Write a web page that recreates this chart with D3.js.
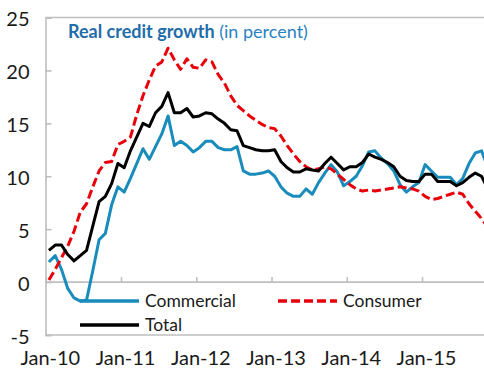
<!DOCTYPE html>
<html>
<head>
<meta charset="utf-8">
<script src="https://cdn.jsdelivr.net/npm/d3@7"></script>
<style>
  html, body { margin: 0; padding: 0; background: #fff; }
  svg { display: block; font-family: Lato, "Open Sans", sans-serif; }
</style>
</head>
<body>
<svg id="chart" width="484" height="375"></svg>
<script>
// Monthly real credit growth, percent, Jan-2010 onwards
const commercial = [
  1.9, 2.5, 1.2, -0.6, -1.5, -1.8, -1.7, 1.1, 4.0, 4.6, 7.3, 9.0,
  8.5, 9.8, 11.2, 12.6, 11.6, 12.8, 14.0, 15.7, 12.9, 13.3, 12.9, 12.3,
  12.7, 13.3, 13.3, 12.7, 12.5, 12.5, 12.8, 10.5, 10.2, 10.2, 10.3, 10.5,
  10.0, 9.0, 8.4, 8.1, 8.1, 8.8, 8.3, 9.4, 10.3, 11.1, 10.4, 9.1,
  9.5, 10.0, 11.0, 12.3, 12.4, 11.7, 11.2, 10.5, 9.2, 8.5, 9.0, 9.4,
  11.1, 10.5, 9.9, 9.9, 9.9, 9.2, 9.8, 11.2, 12.2, 12.4, 10.8
];
const consumer = [
  0.2, 1.2, 2.3, 3.4, 4.8, 6.6, 7.4, 9.0, 10.5, 11.3, 11.4, 13.0,
  13.3, 13.7, 15.8, 17.6, 19.1, 20.4, 20.8, 22.1, 21.0, 20.1, 21.1, 20.3,
  20.2, 21.0, 20.8, 19.6, 18.8, 17.6, 16.7, 16.2, 15.7, 15.3, 14.9, 14.6,
  14.5, 13.8, 12.9, 12.1, 11.4, 10.9, 10.6, 10.7, 10.9, 10.7, 10.2, 9.7,
  9.2, 8.8, 8.6, 8.7, 8.6, 8.7, 8.8, 8.9, 9.0, 8.9, 8.8, 8.6,
  8.1, 7.8, 7.9, 8.1, 8.3, 8.5, 8.3, 7.4, 6.7, 6.0, 5.2
];
const total = [
  3.0, 3.5, 3.5, 2.6, 2.0, 2.5, 3.0, 5.3, 7.6, 8.1, 9.3, 11.2,
  10.8, 12.4, 13.7, 15.0, 14.7, 16.0, 16.6, 17.9, 16.0, 16.0, 16.4, 15.6,
  15.7, 16.0, 15.9, 15.4, 15.0, 14.4, 14.3, 12.9, 12.7, 12.5, 12.4, 12.4,
  12.5, 11.4, 10.8, 10.4, 10.4, 10.7, 10.6, 10.5, 11.2, 11.8, 11.2, 10.6,
  10.9, 10.9, 11.3, 12.1, 11.8, 11.6, 11.3, 10.9, 10.0, 9.6, 9.5, 9.5,
  10.2, 10.2, 9.5, 9.5, 9.5, 9.1, 9.4, 9.9, 10.3, 10.0, 8.8
];
const yTicks = [-5, 0, 5, 10, 15, 20, 25];
const yTickLabels = ["-5", "0", "5", "10", "15", "20", "25"];
const xTickMonths = [0, 12, 24, 36, 48, 60];
const xTickLabels = ["Jan-10", "Jan-11", "Jan-12", "Jan-13", "Jan-14", "Jan-15"];
const seriesNames = ["Commercial", "Consumer", "Total"];
const seriesColors = ["#1a8cbc", "#e8000b", "#000000"];

const svg = d3.select("#chart");
const W = 484;
const grey = "#bfbfbf";

// month index -> pixel; each month is a category, points sit mid-category
const x = d3.scaleLinear().domain([0, 60]).range([45.8, 422]);
const y = d3.scaleLinear().domain([-5, 25]).range([335, 17.5]);
const plotLeft = 45.5;

// frame: top and bottom border, left axis
svg.append("line").attr("x1", plotLeft).attr("x2", W).attr("y1", y(25)).attr("y2", y(25))
  .attr("stroke", grey).attr("stroke-width", 1.6);
svg.append("line").attr("x1", plotLeft).attr("x2", W).attr("y1", y(-5)).attr("y2", y(-5))
  .attr("stroke", grey).attr("stroke-width", 1.6);

// y axis with inward ticks
const yAxis = svg.append("g").attr("transform", `translate(${plotLeft},0)`)
  .call(d3.axisLeft(y).tickValues(yTicks).tickSize(-6).tickPadding(16)
    .tickFormat((d, i) => yTickLabels[i]));
yAxis.select(".domain").attr("stroke", grey).attr("stroke-width", 1.6);
yAxis.selectAll(".tick line").attr("stroke", grey).attr("stroke-width", 1.6);
yAxis.selectAll("text").attr("font-size", 20).attr("fill", "#1a1a1a")
  .attr("font-family", "Lato, sans-serif").attr("dy", "0.42em");

// zero line with upward ticks at each January
const zeroAxis = svg.append("g").attr("transform", `translate(0,${y(0)})`)
  .call(d3.axisBottom(x).tickValues(xTickMonths).tickSize(-5).tickFormat(""));
zeroAxis.select(".domain").attr("d", `M${plotLeft},0H${W}`).attr("stroke", grey).attr("stroke-width", 1.6);
zeroAxis.selectAll(".tick line").attr("stroke", grey).attr("stroke-width", 1.6);

// date labels below the frame
const labelAxis = svg.append("g").attr("transform", `translate(0,${y(-5)})`)
  .call(d3.axisBottom(x).tickValues(xTickMonths).tickSize(0).tickPadding(16)
    .tickFormat((d, i) => xTickLabels[i]));
labelAxis.select(".domain").remove();
labelAxis.selectAll("text").attr("font-size", 20).attr("fill", "#1a1a1a")
  .attr("font-family", "Lato, sans-serif").attr("dx", 4);

// series lines
const line = d3.line().x((d, i) => x(i + 0.5)).y(d => y(d));
const seriesData = [commercial, consumer, total];
seriesData.forEach((vals, k) => {
  svg.append("path").datum(vals)
    .attr("d", line)
    .attr("fill", "none")
    .attr("stroke", seriesColors[k])
    .attr("stroke-width", 3)
    .attr("stroke-linejoin", "round")
    .attr("stroke-dasharray", k === 1 ? "9,4" : null);
});

// title
const title = svg.append("text").attr("x", 68).attr("y", 38)
  .attr("font-size", 18).attr("font-family", "Lato, sans-serif");
title.append("tspan").attr("font-weight", "bold").attr("fill", "#1f6dab").text("Real credit growth");
title.append("tspan").attr("fill", "#2a82c2").text(" (in percent)");

// legend
const legendItems = [
  { k: 0, x: 80, y: 301 },
  { k: 1, x: 278, y: 301 },
  { k: 2, x: 80, y: 325 }
];
const legend = svg.append("g");
legendItems.forEach(it => {
  legend.append("line")
    .attr("x1", it.x).attr("x2", it.x + 59).attr("y1", it.y).attr("y2", it.y)
    .attr("stroke", seriesColors[it.k]).attr("stroke-width", 3.5)
    .attr("stroke-dasharray", it.k === 1 ? "9,4" : null);
  legend.append("text")
    .attr("x", it.x + 65).attr("y", it.y).attr("dy", "0.36em")
    .attr("font-size", 17.5).attr("font-family", "Lato, sans-serif").attr("fill", "#1a1a1a")
    .text(seriesNames[it.k]);
});
</script>
</body>
</html>
